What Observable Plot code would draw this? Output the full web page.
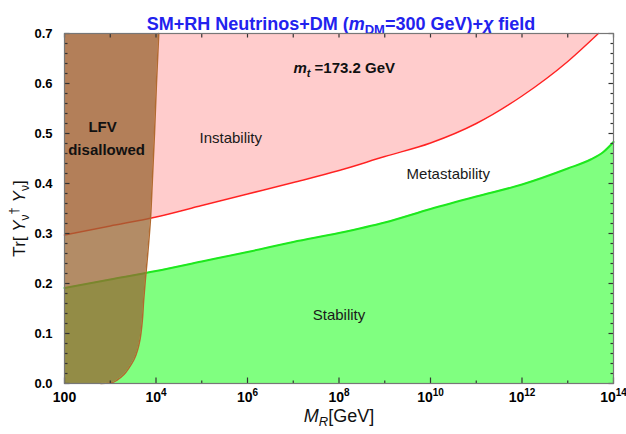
<!DOCTYPE html>
<html>
<head>
<meta charset="utf-8">
<script src="https://cdn.jsdelivr.net/npm/d3@7"></script>
<script src="https://cdn.jsdelivr.net/npm/@observablehq/plot@0.6"></script>
<style>
  body { margin: 0; background: #fff; }
  #chart svg { display: block; }
</style>
</head>
<body>
<div id="chart"></div>
<script>
// Stability boundary: below it the electroweak vacuum is stable
const greenMR = [1e2, 1e3, 1e4, 1e5, 1e6, 1e7, 1e8, 1e9, 1e10, 1e11, 1e12, 1e13, 3.16e13, 6e13, 1e14];
const greenTr = [0.191, 0.208, 0.225, 0.244, 0.263, 0.283, 0.301, 0.322, 0.349, 0.374, 0.398, 0.430, 0.448, 0.463, 0.483];

// Instability boundary: above it the vacuum is unstable
const redMR = [1e2, 1e3, 1e4, 1e5, 1e6, 1e7, 1e8, 1e9, 1e10, 1e11, 1e12, 1e13, 4.68e13];
const redTr = [0.297, 0.315, 0.333, 0.356, 0.379, 0.402, 0.426, 0.454, 0.481, 0.520, 0.575, 0.644, 0.700];

// Lepton-flavour-violation bound: region to the left is excluded
const lfvMR = [620, 891, 1122, 1413, 1995, 2512, 3311, 3981, 4467, 5012, 5370, 5888, 6607, 7586, 8260, 9268, 10230, 11480];
const lfvTr = [0, 0.001, 0.002, 0.007, 0.018, 0.03, 0.048, 0.068, 0.088, 0.125, 0.166, 0.21, 0.26, 0.33, 0.40, 0.50, 0.60, 0.70];

// Axis ticks
const xMajorTicks = [1e2, 1e4, 1e6, 1e8, 1e10, 1e12, 1e14];
const xMinorTicks = [1e3, 1e5, 1e7, 1e9, 1e11, 1e13];
const yMajorTicks = [0, 0.1, 0.2, 0.3, 0.4, 0.5, 0.6, 0.7];
const yMinorTicks = d3.range(0.02, 0.7, 0.02).filter(v => Math.abs(v * 10 - Math.round(v * 10)) > 1e-6);

const green = greenMR.map((m, i) => ({m, t: greenTr[i]}));
const red = redMR.map((m, i) => ({m, t: redTr[i]}));
const lfv = lfvMR.map((m, i) => ({m, t: lfvTr[i]}));

const W = 626, H = 434;
const margin = {top: 33, right: 13, bottom: 51, left: 64};
const xDomain = [1e2, 1e14];
const yDomain = [0, 0.7];
const frameW = W - margin.left - margin.right;
const frameH = H - margin.top - margin.bottom;

const font = "'Liberation Sans', Arial, Helvetica, sans-serif";
const tickColor = "#333";
const xLabelFmt = d => d === 100 ? "100" : "10^" + Math.round(Math.log10(d));

// Tick lengths given in pixels, turned into data offsets from the frame edges
const yPerPx = (yDomain[1] - yDomain[0]) / frameH;
const decadesPerPx = Math.log10(xDomain[1] / xDomain[0]) / frameW;
const xTickRows = (ticks, size, edge, dir) => ticks.map(v => ({v, a: edge, b: edge + dir * size * yPerPx}));
const yTickRows = (ticks, size, edge, dir) => ticks.map(v => ({v, a: edge, b: edge * 10 ** (dir * size * decadesPerPx)}));

const xTickSegs = [
  ...xTickRows(xMajorTicks, 6, yDomain[0], 1),
  ...xTickRows(xMinorTicks, 3, yDomain[0], 1),
  ...xTickRows(xMajorTicks.concat(xMinorTicks), 4, yDomain[1], -1)
];
const yTickSegs = [
  ...yTickRows(yMajorTicks, 5, xDomain[0], 1),
  ...yTickRows(yMinorTicks, 3, xDomain[0], 1),
  ...yTickRows(yMajorTicks, 5, xDomain[1], -1),
  ...yTickRows(yMinorTicks, 3, xDomain[1], -1)
];

const chart = Plot.plot({
  width: W,
  height: H,
  marginLeft: margin.left,
  marginRight: margin.right,
  marginTop: margin.top,
  marginBottom: margin.bottom,
  x: {type: "log", domain: xDomain},
  y: {domain: yDomain},
  style: {fontFamily: font, fontSize: "14px", background: "white", color: "black"},
  marks: [
    // regions
    Plot.areaY(green, {x: "m", y1: 0, y2: "t", fill: "#80ff80", curve: "monotone-x"}),
    Plot.areaY(red, {x: "m", y1: "t", y2: 0.7, fill: "#ffcccc", curve: "monotone-x"}),
    Plot.line(green, {x: "m", y: "t", stroke: "#1ee81e", strokeWidth: 2, curve: "monotone-x"}),
    Plot.line(red, {x: "m", y: "t", stroke: "#f22", strokeWidth: 1.5, curve: "monotone-x"}),
    Plot.areaX(lfv, {y: "t", x1: 100, x2: "m", fill: "#996633", fillOpacity: 0.75, curve: "monotone-y"}),
    Plot.line(lfv, {x: "m", y: "t", stroke: "#b06a30", strokeWidth: 1.5, curve: "monotone-y"}),

    // ticks on all four sides, pointing into the frame
    Plot.link(xTickSegs, {x1: "v", x2: "v", y1: "a", y2: "b", stroke: tickColor, strokeWidth: 1.2}),
    Plot.link(yTickSegs, {y1: "v", y2: "v", x1: "a", x2: "b", stroke: tickColor, strokeWidth: 1.2}),

    // region labels
    Plot.text(["Instability"], {x: 4.3e5, y: 0.49, text: d => d, fontSize: 15, fill: "#1a1a1a"}),
    Plot.text(["Metastability"], {x: 2.45e10, y: 0.418, text: d => d, fontSize: 15, fill: "#1a1a1a"}),
    Plot.text(["Stability"], {x: 1e8, y: 0.136, text: d => d, fontSize: 15, fill: "#1a1a1a"}),
    Plot.text(["m_t=173.2 GeV"], {x: 1.3e8, y: 0.63, text: d => d, fontSize: 15, fontWeight: "bold", fill: "#111"}),
    Plot.text(["LFV"], {x: 680, y: 0.512, text: d => d, fontSize: 15, fontWeight: "bold", fill: "#111"}),
    Plot.text(["disallowed"], {x: 830, y: 0.466, text: d => d, fontSize: 15, fontWeight: "bold", fill: "#111"}),

    // title and axis labels
    Plot.text(["SM+RH Neutrinos+DM (m_DM=300 GeV)+χ field"], {frameAnchor: "top", textAnchor: "middle", dx: 2, dy: -16, text: d => d, fontSize: 18, fontWeight: "bold", fill: "#2222ee"}),
    Plot.text(["M_R[GeV]"], {frameAnchor: "bottom", textAnchor: "middle", dy: 38, text: d => d, fontSize: 18, fill: "#111"}),
    Plot.text(["Tr[ Y_ν † Y_ν ]"], {frameAnchor: "left", textAnchor: "middle", dx: -45, dy: 10, rotate: -90, text: d => d, fontSize: 17, fill: "#111"}),

    // tick labels
    Plot.axisX({anchor: "bottom", ticks: xMajorTicks, tickSize: 0, tickPadding: 9, tickFormat: xLabelFmt, fontWeight: "bold", fontSize: 14, label: null}),
    Plot.axisY({anchor: "left", ticks: yMajorTicks, tickSize: 0, tickPadding: 12, tickFormat: d3.format(".1f"), fontWeight: "bold", fontSize: 13, label: null}),

    Plot.frame({stroke: "#777", strokeWidth: 1.2})
  ]
});

// Rich text: italics, subscripts and superscripts inside single text nodes
function rich(svg, match, parts) {
  d3.select(svg).selectAll("text")
    .filter(function () { return typeof match === "string" ? this.textContent === match : match.test(this.textContent); })
    .each(function () {
      const el = d3.select(this);
      const spans = typeof parts === "function" ? parts(this.textContent) : parts;
      el.text(null);
      let base = 0;
      for (const p of spans) {
        const off = p.sub ? p.sub : p.sup ? -p.sup : 0;
        const ts = el.append("tspan").text(p.t);
        if (off - base !== 0) ts.attr("dy", off - base);
        base = off;
        if (p.i) ts.attr("font-style", "italic");
        if (p.s) ts.attr("font-size", p.s);
      }
    });
}

rich(chart, "SM+RH Neutrinos+DM (m_DM=300 GeV)+χ field", [
  {t: "SM+RH Neutrinos+DM ("}, {t: "m", i: true}, {t: "DM", sub: 4, s: 13}, {t: "=300 GeV)+"}, {t: "χ", i: true}, {t: " field"}
]);
rich(chart, "m_t=173.2 GeV", [
  {t: "m", i: true}, {t: "t", i: true, sub: 4, s: 11}, {t: " =173.2 GeV"}
]);
rich(chart, "M_R[GeV]", [
  {t: "M", i: true}, {t: "R", i: true, sub: 4, s: 13}, {t: "[GeV]"}
]);
rich(chart, "Tr[ Y_ν † Y_ν ]", [
  {t: "Tr[ "}, {t: "Y", i: true}, {t: "ν", sub: 4, s: 12}, {t: "†", sup: 7, s: 13}, {t: " Y", i: true}, {t: "ν", sub: 4, s: 12}, {t: "]"}
]);
rich(chart, /^10\^\d+$/, s => [
  {t: "10"}, {t: s.split("^")[1], sup: 6, s: 10}
]);

document.getElementById("chart").append(chart);
</script>
</body>
</html>
